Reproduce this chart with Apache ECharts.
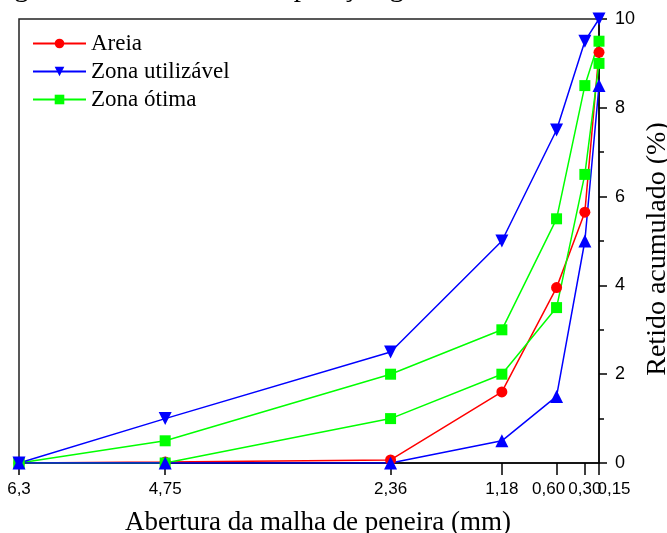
<!DOCTYPE html>
<html>
<head>
<meta charset="utf-8">
<script src="https://cdn.jsdelivr.net/npm/echarts@6/dist/echarts.min.js"></script>
<style>
  html, body { margin: 0; padding: 0; background: #fff; }
  #chart { width: 667px; height: 533px; }
</style>
</head>
<body>
<div id="chart"></div>
<script>
// Sieve openings (mm) and their printed labels
const sieves = [6.3, 4.75, 2.36, 1.18, 0.6, 0.3, 0.15];
const tickLabels = ['6,3', '4,75', '2,36', '1,18', '0,60', '0,30', '0,15'];

// Cumulative retained (%) per sieve
const areia = [0, 0.02, 0.07, 1.6, 3.95, 5.65, 9.25];
const utilizavelSup = [0, 1, 2.5, 5, 7.5, 9.5, 10];
const utilizavelInf = [0, 0, 0, 0.5, 1.5, 5, 8.5];
const otimaSup = [0, 0.5, 2, 3, 5.5, 8.5, 9.5];
const otimaInf = [0, 0, 1, 2, 3.5, 6.5, 9];

const yTicks = [0, 2, 4, 6, 8, 10];

const serif = '"Liberation Serif", "Times New Roman", serif';
const sans = '"Liberation Sans", Arial, sans-serif';

function pairs(vals) {
  return sieves.map((s, i) => [s, vals[i]]);
}

function idxOf(v) {
  return sieves.findIndex(s => Math.abs(s - v) < 1e-9);
}

// The three finest sieves sit close together, so their labels are nudged apart
function labelFor(v) {
  const i = idxOf(v);
  if (i < 0) return '';
  if (i === 4) return '{l|' + tickLabels[i] + '}';
  if (i === 6) return '{r|' + tickLabels[i] + '}';
  return tickLabels[i];
}

const labelRich = {
  l: { fontFamily: sans, fontSize: 17, color: '#000', padding: [0, 16, 0, 0] },
  r: { fontFamily: sans, fontSize: 17, color: '#000', padding: [0, 0, 0, 30] }
};

function lineSeries(name, color, values, symbol, size, rotate) {
  return {
    name: name,
    type: 'line',
    data: pairs(values),
    symbol: symbol,
    symbolSize: size,
    symbolRotate: rotate || 0,
    showAllSymbol: true,
    color: color,
    lineStyle: { color: color, width: 1.5 },
    itemStyle: { color: color },
    emphasis: { disabled: true }
  };
}

function sieveAxis(values, withLine) {
  return {
    type: 'value',
    position: 'bottom',
    inverse: true,
    min: 0.15,
    max: 6.3,
    splitLine: { show: false },
    axisLine: { show: withLine, onZero: false, lineStyle: { color: '#000', width: 1.5 } },
    axisTick: {
      show: true, inside: false, length: 12,
      customValues: values,
      lineStyle: { color: '#000', width: 1.5 }
    },
    axisLabel: {
      customValues: values,
      formatter: labelFor,
      rich: labelRich,
      margin: 18,
      fontFamily: sans,
      fontSize: 17,
      color: '#000',
      hideOverlap: false,
      showMinLabel: true,
      showMaxLabel: true
    }
  };
}

const mainX = sieveAxis([6.3, 4.75, 2.36, 1.18, 0.6, 0.15], true);
mainX.name = 'Abertura da malha de peneira (mm)';
mainX.nameLocation = 'middle';
mainX.nameGap = 46;
mainX.nameTextStyle = { fontFamily: serif, fontSize: 27, color: '#000', padding: [0, 0, 0, 18] };

const finerX = sieveAxis([0.3], false);

const chart = echarts.init(document.getElementById('chart'), null, { renderer: 'canvas' });

chart.setOption({
  animation: false,
  backgroundColor: '#fff',
  graphic: [{
    type: 'text',
    x: -10,
    y: 3,
    style: {
      text: 'Figura 12 – Curva de composição granulométrica',
      font: '29px ' + serif,
      fill: '#000',
      textVerticalAlign: 'bottom'
    }
  }],
  grid: {
    left: 19, right: 68, top: 19, bottom: 70,
    containLabel: false,
    outerBoundsMode: 'none',
    show: true,
    borderColor: '#222',
    borderWidth: 1.5,
    backgroundColor: 'transparent'
  },
  legend: {
    data: ['Areia', 'Zona utilizável', 'Zona ótima'],
    orient: 'vertical',
    left: 27,
    top: 27,
    itemWidth: 53,
    itemHeight: 12,
    itemGap: 5,
    textStyle: { fontFamily: serif, fontSize: 23, color: '#000' },
    selectedMode: false
  },
  xAxis: [mainX, finerX],
  yAxis: {
    type: 'value',
    position: 'right',
    min: 0,
    max: 10,
    interval: 2,
    splitLine: { show: false },
    axisLine: { show: true, onZero: false, lineStyle: { color: '#000', width: 1.5 } },
    axisTick: { show: true, inside: false, length: 8, lineStyle: { color: '#000', width: 1.5 } },
    minorTick: { show: true, splitNumber: 2, length: 5, lineStyle: { color: '#000', width: 1.5 } },
    axisLabel: {
      customValues: yTicks,
      margin: 16,
      fontFamily: sans,
      fontSize: 18,
      color: '#000'
    },
    name: 'Retido acumulado (%)',
    nameLocation: 'middle',
    nameRotate: 90,
    nameGap: 45,
    nameMoveOverlap: false,
    nameTextStyle: { fontFamily: serif, fontSize: 28, color: '#000', padding: [0, 16, 0, 0] }
  },
  series: [
    lineSeries('Areia', '#ff0000', areia, 'circle', 11),
    lineSeries('Zona ótima', '#00ff00', otimaSup, 'rect', 11),
    lineSeries('Zona ótima', '#00ff00', otimaInf, 'rect', 11),
    lineSeries('Zona utilizável', '#0000ff', utilizavelSup, 'triangle', 13, 180),
    lineSeries('Zona utilizável', '#0000ff', utilizavelInf, 'triangle', 13)
  ]
});
</script>
</body>
</html>
